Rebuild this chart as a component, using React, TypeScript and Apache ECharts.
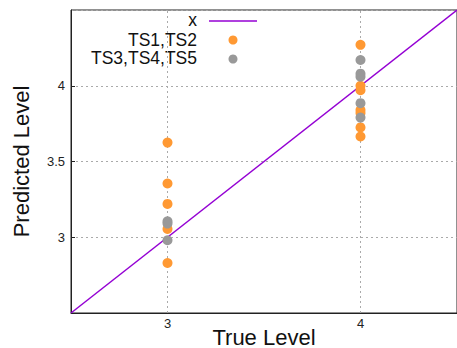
import React, { useEffect, useRef } from "react";
import * as echarts from "echarts";

const xTicks = [3, 4];
const yTicks = [3, 3.5, 4];
const identityLine = [[2.5, 2.5], [4.5, 4.5]];
const ts12 = [
  [3, 3.625], [3, 3.355], [3, 3.22], [3, 3.055], [3, 2.83],
  [4, 4.27], [4, 4.0], [4, 3.97], [4, 3.84], [4, 3.82], [4, 3.725], [4, 3.665],
];
const ts345 = [
  [3, 3.105], [3, 2.98], [3, 3.09],
  [4, 4.17], [4, 4.08], [4, 4.06], [4, 3.885], [4, 3.79],
];
const legendNames = ["x", "TS1,TS2", "TS3,TS4,TS5"];

const ORANGE = "#ff9933";
const GREY = "#999999";
const PURPLE = "#9400d3";
const FONT = "Liberation Sans, Arial, sans-serif";

export default function App() {
  const ref = useRef<HTMLDivElement>(null);
  useEffect(() => {
    const chart = echarts.init(ref.current!, null, { renderer: "svg" });
    chart.setOption({
      animation: false,
      grid: {
        left: 71, right: 0, top: 10, bottom: 35, show: true,
        borderColor: "#222", borderWidth: 1,
        containLabel: false, outerBoundsMode: "none",
      },
      xAxis: {
        type: "value", min: 2.5, max: 4.5, interval: 0.5,
        name: "True Level", nameLocation: "middle", nameGap: 13, nameMoveOverlap: false,
        nameTextStyle: { fontSize: 22, color: "#111", fontFamily: FONT, lineHeight: 22 },
        axisLine: { show: true, lineStyle: { color: "#222" } },
        axisTick: { show: false },
        splitLine: { show: false },
        axisLabel: {
          fontSize: 13, color: "#222", fontFamily: FONT, margin: 4,
          formatter: (v: number) => (xTicks.includes(v) ? String(v) : ""),
        },
      },
      yAxis: {
        type: "value", min: 2.5, max: 4.5, interval: 0.5,
        name: "Predicted Level", nameLocation: "middle", nameGap: 39, nameMoveOverlap: false,
        nameTextStyle: { fontSize: 22, color: "#111", fontFamily: FONT },
        axisLine: { show: true, lineStyle: { color: "#222" } },
        axisTick: { show: true, inside: true, length: 4, lineStyle: { color: "#222" } },
        splitLine: { show: true, lineStyle: { color: "#aaa", type: [2, 3], width: 1 } },
        axisLabel: {
          fontSize: 13, color: "#222", fontFamily: FONT, margin: 6,
          showMinLabel: false, showMaxLabel: false,
          formatter: (v: number) => (yTicks.includes(v) ? String(v) : ""),
        },
      },
      series: [
        {
          type: "line", name: legendNames[0], data: identityLine, symbol: "none",
          lineStyle: { color: PURPLE, width: 1.5 }, z: 3,
          markLine: {
            silent: true, symbol: "none", label: { show: false },
            lineStyle: { color: "#aaa", type: [2, 3], width: 1 },
            data: xTicks.map((v) => ({ xAxis: v })),
            z: 1,
          },
        },
        {
          type: "scatter", name: legendNames[1], data: ts12, symbolSize: 10,
          itemStyle: { color: ORANGE, opacity: 1 }, z: 4,
        },
        {
          type: "scatter", name: legendNames[2], data: ts345, symbolSize: 10,
          itemStyle: { color: GREY, opacity: 1 }, z: 5,
        },
      ],
      graphic: [
        { type: "text", x: 197, y: 20, style: { text: legendNames[0], fontSize: 17.5, lineHeight: 17, fill: "#111", fontFamily: FONT, align: "right", verticalAlign: "middle" } },
        { type: "line", shape: { x1: 209, y1: 21, x2: 257, y2: 21 }, style: { stroke: PURPLE, lineWidth: 1.5 } },
        { type: "text", x: 197, y: 40, style: { text: legendNames[1], fontSize: 17.5, lineHeight: 17, fill: "#111", fontFamily: FONT, align: "right", verticalAlign: "middle" } },
        { type: "circle", shape: { cx: 233, cy: 40, r: 4.5 }, style: { fill: ORANGE } },
        { type: "text", x: 197, y: 58, style: { text: legendNames[2], fontSize: 17.5, lineHeight: 17, fill: "#111", fontFamily: FONT, align: "right", verticalAlign: "middle" } },
        { type: "circle", shape: { cx: 233, cy: 59, r: 4.5 }, style: { fill: GREY } },
      ],
    });
    return () => chart.dispose();
  }, []);
  return <div ref={ref} style={{ width: 457, height: 348, position: "absolute", left: 0, top: 0 }} />;
}
